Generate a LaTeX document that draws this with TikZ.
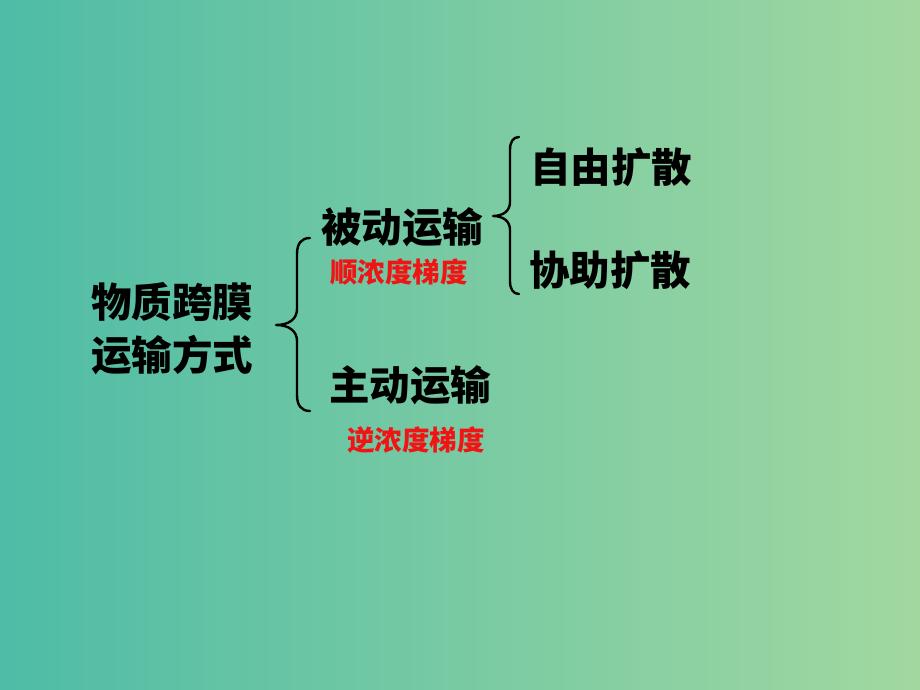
\documentclass[tikz,border=0pt]{standalone}
\usepackage{fontspec}
\newfontfamily\cjk{Noto Sans CJK SC}
\definecolor{bgleft}{RGB}{78,188,166}
\definecolor{bgright}{RGB}{162,216,160}
\definecolor{redtxt}{RGB}{240,20,20}
\tikzset{
  big/.style={font=\cjk\bfseries\fontsize{40.5}{53}\selectfont, text=black, inner sep=0pt},
  small/.style={font=\cjk\bfseries\fontsize{27.5}{33}\selectfont, text=redtxt, inner sep=0pt},
  bracestroke/.style={draw=black, line width=2.4pt, line cap=round, line join=round}
}
\begin{document}
\begin{tikzpicture}[x=1pt,y=-1pt]
\shade[left color=bgleft, right color=bgright] (0,0) rectangle (920,690);
\useasboundingbox (0,0) rectangle (920,690);
% texts
\node[big, align=center] (root) at (172,329) {物质跨膜\\运输方式};
\node[big] (passive) at (402,227) {被动运输};
\node[small] (passivenote) at (399,272) {顺浓度梯度};
\node[big] (active) at (410,385) {主动运输};
\node[small] (activenote) at (416,440) {逆浓度梯度};
\node[big] (free) at (611,167) {自由扩散};
\node[big] (assist) at (610,270) {协助扩散};
% left brace
\coordinate (lbtop) at (310,238);
\coordinate (lbtip) at (276,325);
\coordinate (lbbot) at (310,411);
\draw[bracestroke] (lbtop) .. controls (301,238) and (297,244) .. (297,254)
  -- (297,309) .. controls (297,319) and (289,325) .. (lbtip)
  .. controls (289,325) and (297,331) .. (297,341)
  -- (297,395) .. controls (297,405) and (301,411) .. (lbbot);
% right brace
\coordinate (rbtop) at (519,137);
\coordinate (rbtip) at (493,216);
\coordinate (rbbot) at (519,294);
\draw[bracestroke] (rbtop) .. controls (513,137) and (510,142) .. (510,150)
  -- (510,202) .. controls (510,211) and (503,216) .. (rbtip)
  .. controls (503,216) and (510,221) .. (510,230)
  -- (510,281) .. controls (510,289) and (513,294) .. (rbbot);
\end{tikzpicture}
\end{document}
